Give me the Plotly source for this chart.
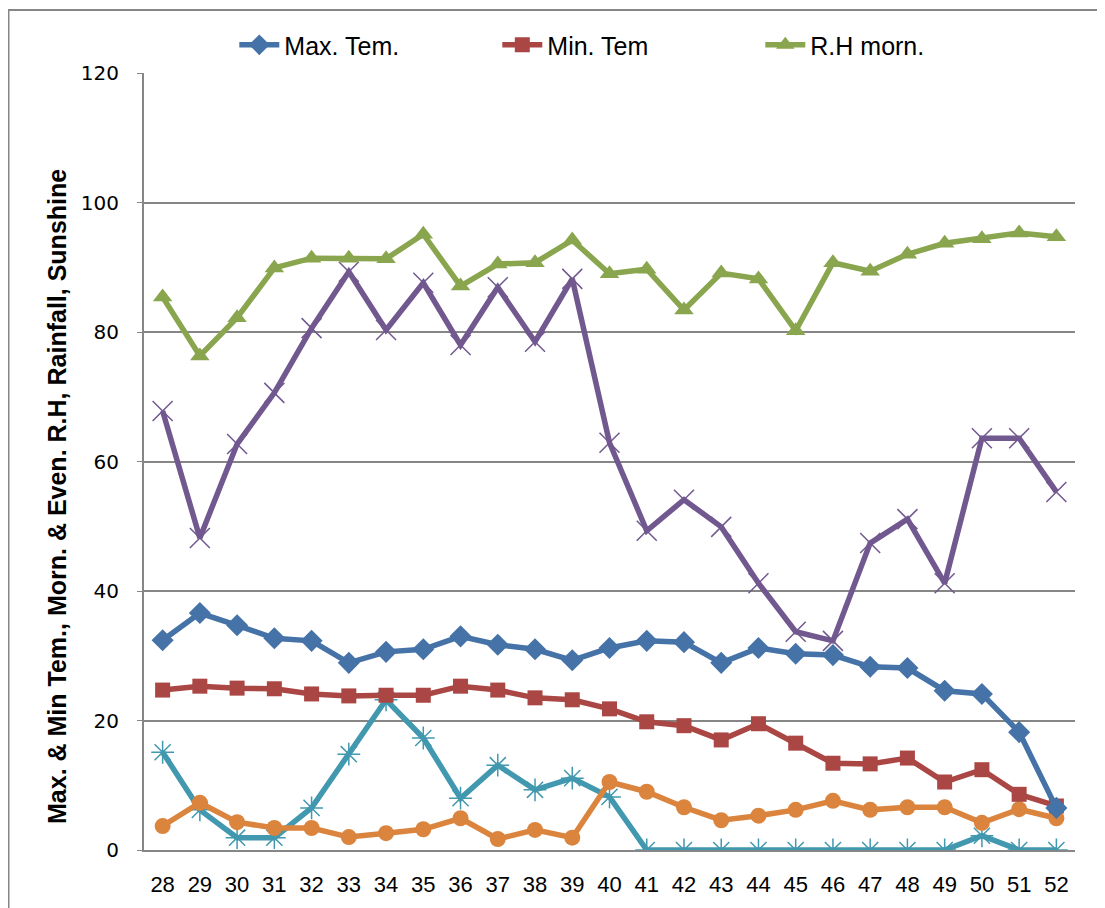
import plotly.graph_objects as go

weeks = [str(w) for w in range(28, 53)]

max_tem = [32.4, 36.6, 34.7, 32.7, 32.3, 28.9, 30.6, 31.0, 33.0, 31.7, 31.0, 29.3, 31.2,
           32.3, 32.1, 28.9, 31.2, 30.3, 30.1, 28.3, 28.1, 24.6, 24.1, 18.2, 6.5]
min_tem = [24.7, 25.3, 25.0, 24.9, 24.1, 23.8, 23.9, 23.9, 25.3, 24.7, 23.5, 23.2, 21.8,
           19.8, 19.2, 17.0, 19.5, 16.5, 13.4, 13.3, 14.2, 10.5, 12.4, 8.6, 6.8]
rh_morn = [85.4, 76.3, 82.2, 89.9, 91.4, 91.4, 91.3, 95.1, 87.1, 90.5, 90.7, 94.2, 89.0,
           89.7, 83.4, 89.1, 88.2, 80.2, 90.7, 89.4, 92.0, 93.7, 94.4, 95.3, 94.7]
rh_even = [67.8, 48.2, 62.7, 70.6, 80.6, 89.3, 80.3, 87.6, 78.0, 86.9, 78.5, 88.2, 62.9,
           49.3, 54.1, 49.9, 41.2, 33.7, 32.3, 47.4, 51.1, 41.2, 63.6, 63.6, 55.3]
rainfall = [15.1, 6.2, 1.9, 1.9, 6.5, 14.8, 23.2, 17.3, 8.0, 13.1, 9.3, 11.1, 8.2,
            0, 0, 0, 0, 0, 0, 0, 0, 0, 2.2, 0, 0]
sunshine = [3.7, 7.3, 4.3, 3.4, 3.4, 2.0, 2.6, 3.2, 4.9, 1.7, 3.1, 1.9, 10.5,
            9.0, 6.6, 4.6, 5.3, 6.2, 7.6, 6.2, 6.6, 6.6, 4.2, 6.3, 4.9]

y_title = "Max. & Min Tem., Morn. & Even. R.H, Rainfall, Sunshine"

series = [
    ("R.H even.", rh_even, "#71588F", "x-thin-open", 20, False),
    ("Rainfall", rainfall, "#4198AF", "asterisk-open", 19, False),
    ("Sunshine", sunshine, "#DB843D", "circle", 16, False),
    ("R.H morn.", rh_morn, "#89A54E", "triangle-up", 17, True),
    ("Min. Tem", min_tem, "#AA4643", "square", 15, True),
    ("Max. Tem.", max_tem, "#4572A7", "diamond", 17, True),
]

fig = go.Figure()
for name, vals, col, sym, size, show in series:
    thin = sym in ("x-thin-open", "asterisk-open")
    fig.add_trace(go.Scatter(
        x=weeks, y=vals, mode="lines+markers", name=name, showlegend=show,
        line=dict(color=col, width=5.5),
        marker=dict(symbol=sym, size=size, color=col,
                    line=dict(color=col, width=1.5 if thin else 0)),
    ))

# page has an 8px body margin; margins below compensate for it
fig.update_layout(
    width=1105, height=908,
    margin=dict(l=136, r=38, t=65, b=66, autoexpand=False),
    paper_bgcolor="white", plot_bgcolor="white",
    font=dict(family="Liberation Sans", color="black"),
    legend=dict(orientation="h", x=0.097, y=1.036, xanchor="left", yanchor="middle",
                traceorder="reversed",
                font=dict(size=25, family="Liberation Sans"),
                entrywidth=208, entrywidthmode="pixels", itemwidth=40,
                bgcolor="rgba(0,0,0,0)"),
    xaxis=dict(type="category", range=[-0.5, 24.5], showgrid=False,
               showline=True, linecolor="#868686", linewidth=2,
               tickfont=dict(size=22, family="Liberation Sans"),
               ticks="", ticklabelstandoff=14),
    yaxis=dict(range=[0, 120], dtick=20, showgrid=True, gridcolor="#868686", gridwidth=1.5,
               showline=True, linecolor="#868686", linewidth=2,
               ticks="outside", ticklen=5, tickcolor="#868686",
               ticklabelstandoff=14,
               tickfont=dict(size=20, family="DejaVu Sans"),
               zeroline=False),
)

fig.add_annotation(text="<b>" + y_title + "</b>", textangle=-90,
                   xref="paper", yref="paper",
                   x=(57 - 8 - 136) / 931, y=(842 - (497 - 8)) / 777,
                   xanchor="center", yanchor="middle", showarrow=False,
                   font=dict(size=25, family="Liberation Sans", color="black"))

# outer chart border
fig.add_shape(type="rect", xref="paper", yref="paper",
              x0=(0.5 - 136) / 931, x1=(1200 - 136) / 931,
              y0=(842 - 1000) / 777, y1=(842 - 2) / 777,
              line=dict(color="#868686", width=2), fillcolor="rgba(0,0,0,0)", layer="below")

fig.write_html("out.html")
